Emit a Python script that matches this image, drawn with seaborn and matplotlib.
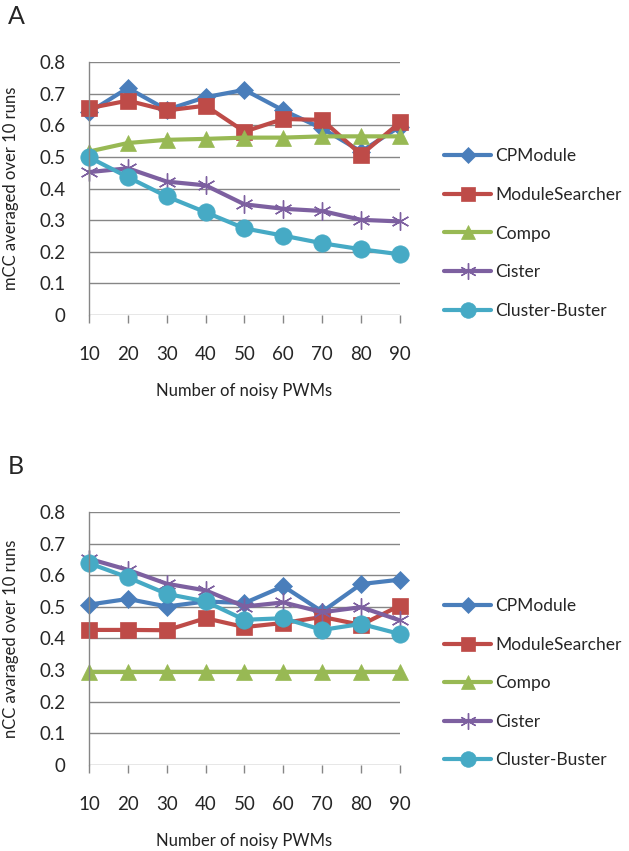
import numpy as np
import pandas as pd
import matplotlib
matplotlib.use("Agg")
import matplotlib.pyplot as plt
import seaborn as sns
from matplotlib.lines import Line2D

# ---- data ----
pwms = [10, 20, 30, 40, 50, 60, 70, 80, 90]
methods = ["CPModule", "ModuleSearcher", "Compo", "Cister", "Cluster-Buster"]

a_cpmodule = [0.641, 0.718, 0.649, 0.689, 0.712, 0.647, 0.590, 0.517, 0.596]
a_modsearch = [0.654, 0.678, 0.647, 0.662, 0.580, 0.620, 0.617, 0.507, 0.609]
a_compo = [0.517, 0.544, 0.554, 0.557, 0.561, 0.561, 0.565, 0.565, 0.565]
a_cister = [0.452, 0.464, 0.422, 0.410, 0.350, 0.336, 0.329, 0.301, 0.296]
a_cbuster = [0.499, 0.436, 0.375, 0.325, 0.274, 0.251, 0.227, 0.208, 0.192]

b_cpmodule = [0.507, 0.525, 0.501, 0.517, 0.512, 0.565, 0.485, 0.572, 0.586]
b_modsearch = [0.427, 0.427, 0.426, 0.464, 0.436, 0.449, 0.468, 0.443, 0.504]
b_compo = [0.295, 0.295, 0.295, 0.295, 0.295, 0.295, 0.295, 0.295, 0.295]
b_cister = [0.652, 0.617, 0.573, 0.552, 0.501, 0.514, 0.483, 0.499, 0.457]
b_cbuster = [0.638, 0.593, 0.541, 0.517, 0.459, 0.464, 0.427, 0.446, 0.414]

yticks = [0, 0.1, 0.2, 0.3, 0.4, 0.5, 0.6, 0.7, 0.8]
ytick_labels = ["0", "0.1", "0.2", "0.3", "0.4", "0.5", "0.6", "0.7", "0.8"]

colors = ["#4A7EBB", "#BE4B48", "#98B954", "#7D60A0", "#46AAC5"]
markers = ["D", "s", "^", (6, 2, 0), "o"]
msizes = [9.5, 11.5, 11, 13, 12.5]

sns.set_theme(style="white")
plt.rcParams["font.family"] = ["Lato", "DejaVu Sans"]

fig = plt.figure(figsize=(6.29, 8.51), dpi=100)
axA = fig.add_axes([0.1415, 0.6298, 0.4944, 0.2973])
axB = fig.add_axes([0.1415, 0.1011, 0.4944, 0.2973])

panels = [
    (axA, [a_cpmodule, a_modsearch, a_compo, a_cister, a_cbuster], "mCC averaged over 10 runs", "A", 0.7256),
    (axB, [b_cpmodule, b_modsearch, b_compo, b_cister, b_cbuster], "nCC avaraged over 10 runs", "B", 0.197),
]

for ax, series, ylab, letter, leg_y in panels:
    for m, vals, c, mk, ms in zip(methods, series, colors, markers, msizes):
        df = pd.DataFrame({"PWMs": pwms, "value": vals})
        sns.lineplot(data=df, x="PWMs", y="value", color=c, marker=mk,
                     markersize=ms, markeredgecolor=c,
                     markeredgewidth=(1.0 if mk == (6, 2, 0) else 0.5),
                     linewidth=3, ax=ax, clip_on=False)
    ax.set_xlim(10, 90)
    ax.set_ylim(0, 0.8)
    ax.set_yticks(yticks)
    ax.set_yticklabels(ytick_labels)
    ax.set_xticks(pwms)
    ax.set_xticklabels([str(p) for p in pwms])
    ax.grid(axis="y", color="#868686", linewidth=1)
    ax.grid(axis="x", visible=False)
    ax.set_axisbelow(True)
    for s in ["top", "right", "bottom"]:
        ax.spines[s].set_visible(False)
    ax.spines["left"].set_color("#868686")
    ax.spines["left"].set_linewidth(1)
    ax.tick_params(axis="x", direction="out", length=6, width=1, color="#868686",
                   labelsize=13.5, pad=16, bottom=True)
    ax.tick_params(axis="y", length=0, labelsize=13.5, pad=17)
    ax.set_xlabel("Number of noisy PWMs", fontsize=12, labelpad=15, color="#222222")
    ax.set_ylabel(ylab, fontsize=12, color="#222222")
    ax.yaxis.set_label_coords(-0.225, 0.5)
    bbox = ax.get_position()
    fig.text(0.012, bbox.y1 + 0.054, letter, fontsize=18, ha="left", va="center")

    handles = [Line2D([0], [0], color=c, marker=mk, markersize=ms * 0.9, linewidth=3,
                      markeredgecolor=c, markeredgewidth=(1.0 if mk == (6, 2, 0) else 0.5))
               for c, mk, ms in zip(colors, markers, msizes)]
    fig.legend(handles, methods, loc="center left", bbox_to_anchor=(0.695, leg_y),
               frameon=False, fontsize=12.5, handlelength=2.7, labelspacing=1.3,
               handletextpad=0.25, borderaxespad=0)

fig.savefig("out.png", dpi=100)
